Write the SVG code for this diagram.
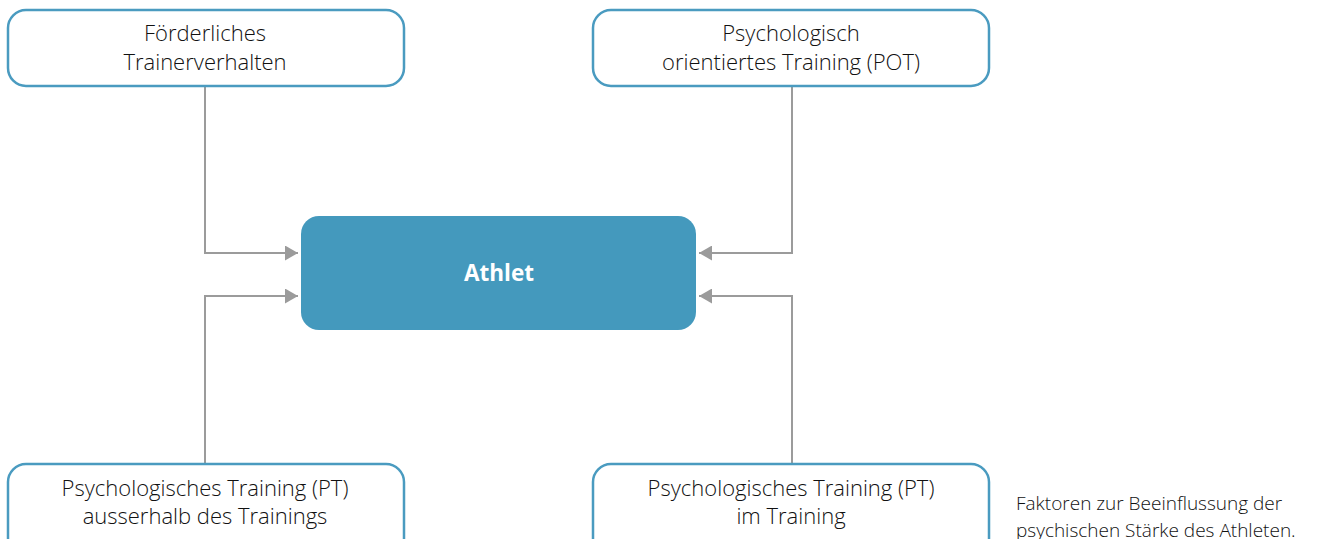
<svg xmlns="http://www.w3.org/2000/svg" width="1322" height="539" viewBox="0 0 1322 539">
<defs>
<marker id="ah" markerWidth="14" markerHeight="15" refX="13" refY="7.5" orient="auto" markerUnits="userSpaceOnUse">
<path d="M0,0 L13,7.5 L0,15 Z" fill="#9b9b9b"/>
</marker>
<style>
.box{fill:#fff;stroke:#4a9bc0;stroke-width:2.5}
.t{font-family:"Open Sans","Noto Sans",sans-serif;font-size:22px;fill:#111;text-anchor:middle;font-weight:300}
.c{stroke:#9b9b9b;stroke-width:2;fill:none}
.cap{font-family:"Open Sans","Noto Sans",sans-serif;font-size:19px;font-weight:300;fill:#111}
</style>
</defs>
<rect width="1322" height="539" fill="#fff"/>
<g id="connectors">
<path class="c" d="M205,86 V253 H298" marker-end="url(#ah)"/>
<path class="c" d="M205,464 V296 H298" marker-end="url(#ah)"/>
<path class="c" d="M792,86 V253 H699" marker-end="url(#ah)"/>
<path class="c" d="M792,464 V296 H699" marker-end="url(#ah)"/>
</g>
<g id="n1">
<rect class="box" x="8" y="10" width="396" height="76" rx="18"/>
<text class="t" x="205" y="41">Förderliches</text>
<text class="t" x="205" y="70">Trainerverhalten</text>
</g>
<g id="n2">
<rect class="box" x="593" y="10" width="396" height="76" rx="18"/>
<text class="t" x="791" y="41">Psychologisch</text>
<text class="t" x="791" y="70">orientiertes Training (POT)</text>
</g>
<g id="athlet">
<rect x="301" y="216" width="395" height="114" rx="18" fill="#4499bd"/>
<text x="499" y="281" font-family="Open Sans, Noto Sans, sans-serif" font-size="22.5" font-weight="bold" fill="#fff" text-anchor="middle">Athlet</text>
</g>
<g id="n3">
<rect class="box" x="8" y="464" width="396" height="100" rx="18"/>
<text class="t" x="205" y="496">Psychologisches Training (PT)</text>
<text class="t" x="205" y="524">ausserhalb des Trainings</text>
</g>
<g id="n4">
<rect class="box" x="593" y="464" width="396" height="100" rx="18"/>
<text class="t" x="791" y="496">Psychologisches Training (PT)</text>
<text class="t" x="791" y="524">im Training</text>
</g>
<g id="caption">
<text class="cap" x="1016" y="510">Faktoren zur Beeinflussung der</text>
<text class="cap" x="1016" y="537">psychischen Stärke des Athleten.</text>
</g>
</svg>
